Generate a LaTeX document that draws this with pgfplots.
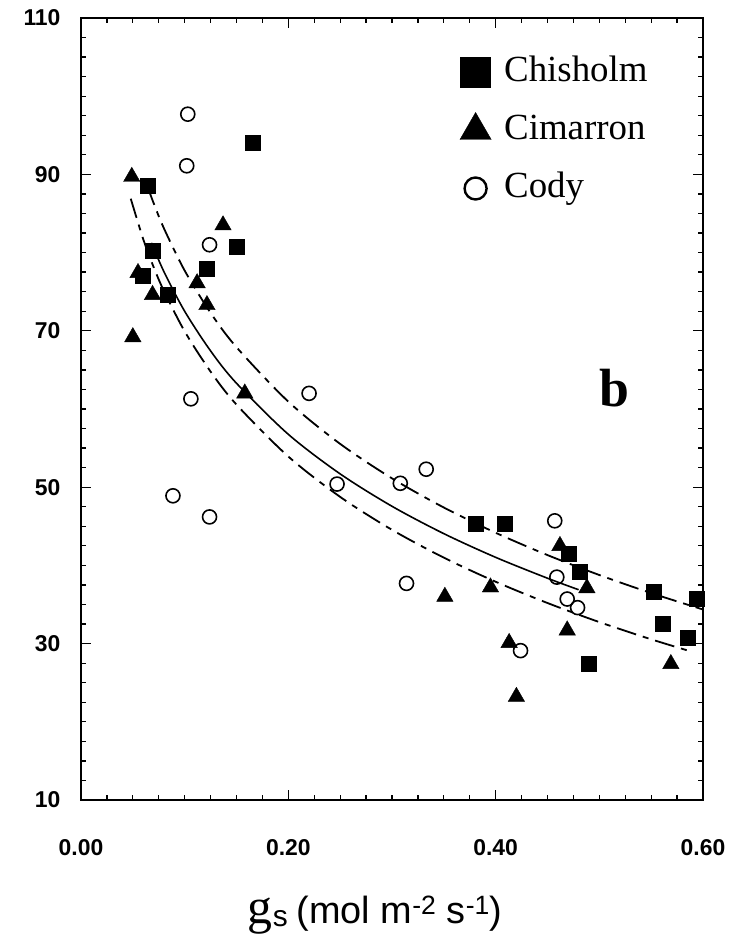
\documentclass[border=0pt]{standalone}
\usepackage{fontspec}
\setmainfont{Liberation Serif}
\setsansfont{Liberation Sans}
\usepackage{pgfplots}
\pgfplotsset{compat=1.18}
\usepackage{pgfplotstable}

% a single mark as legend image
\pgfplotsset{marklegend/.style={legend image code/.code={\draw[##1] plot coordinates {(0bp,0bp)};}}}

% Photosynthesis vs stomatal conductance, three cultivars
\pgfplotstableread{
x y
0.0646 88.5
0.0695 80.2
0.060 77.1
0.084 74.6
0.1215 77.9
0.150 80.8
0.166 94.0
0.381 45.3
0.409 45.3
0.470 41.5
0.481 39.2
0.490 27.4
0.552 36.6
0.561 32.5
0.585 30.7
0.594 35.7
}\chisholm

\pgfplotstableread{
x y
0.049 89.7
0.055 77.4
0.069 74.6
0.050 69.2
0.112 76.1
0.1215 73.3
0.137 83.5
0.158 62.0
0.351 36.0
0.395 37.2
0.413 30.1
0.420 23.2
0.462 42.5
0.469 31.7
0.488 37.1
0.569 27.4
}\cimarron

\pgfplotstableread{
x y
0.103 97.7
0.102 91.1
0.124 81.0
0.106 61.3
0.0887 48.9
0.124 46.2
0.220 62.0
0.247 50.4
0.308 50.5
0.333 52.3
0.314 37.7
0.457 45.7
0.459 38.5
0.469 35.7
0.479 34.6
0.424 29.1
}\cody

% fitted curves
\pgfplotstableread{
x y
0.064 88.5
0.070 86.35
0.080 83.1
0.100 77.7
0.125 72.3
0.150 67.9
0.200 60.94
0.250 55.54
0.300 51.13
0.350 47.40
0.400 44.17
0.450 41.32
0.500 38.77
0.550 36.46
0.600 34.36
}\fitupper

\pgfplotstableread{
x y
0.068 81.25
0.080 77.56
0.100 72.50
0.125 67.43
0.150 63.29
0.200 56.76
0.250 51.70
0.300 47.56
0.350 44.06
0.400 41.03
0.450 38.36
0.480 36.89
}\fitall

\pgfplotstableread{
x y
0.048 86.89
0.060 81.73
0.070 78.17
0.080 75.09
0.100 69.93
0.125 64.78
0.150 60.56
0.200 53.92
0.250 48.76
0.300 44.55
0.350 40.99
0.400 37.91
0.450 35.19
0.500 32.75
0.550 30.55
0.590 28.93
}\fitlower

\begin{document}
\begin{tikzpicture}
\useasboundingbox (-81bp,-151bp) rectangle (649bp,800bp);
\begin{axis}[
  at={(0,0)}, anchor=south west,
  scale only axis, width=622bp, height=782bp,
  xmin=0, xmax=0.6, ymin=10, ymax=110,
  xtick={0,0.2,0.4,0.6}, ytick={10,30,50,70,90,110},
  minor x tick num=7, minor y tick num=7,
  tick align=inside,
  major tick length=10bp, minor tick length=5bp,
  axis line style={line width=1.8bp},
  every tick/.style={black, line width=1.3bp},
  /pgf/number format/assume math mode=true,
  x tick label style={/pgf/number format/fixed, /pgf/number format/fixed zerofill,
    /pgf/number format/precision=2, yshift=-36bp},
  y tick label style={xshift=-17bp},
  tick label style={font=\fontsize{23}{23}\selectfont\sffamily\bfseries},
  xlabel={{\fontsize{50}{50}\selectfont g}{\raisebox{-3bp}{\fontsize{30}{30}\selectfont\sffamily s}}\hspace{9bp}{\fontsize{38}{38}\selectfont\sffamily (mol m\textsuperscript{-2} s\textsuperscript{-1})}},
  x label style={at={(axis description cs:0.473,0)}, anchor=base, yshift=-123bp},
  legend style={draw=none, fill=none, inner sep=0pt, outer sep=0pt,
    at={(axis cs:0.3656,105.46)}, anchor=north west,
    row sep=20bp, column sep=13bp,
    font=\fontsize{37}{37}\selectfont,
    nodes={text height=26bp, text depth=8bp, inner ysep=2bp, inner xsep=0bp}},
  legend cell align=left,
]
\addplot[forget plot, black, line width=1.8bp, dash pattern=on 20bp off 7bp on 6bp off 7bp, smooth] table {\fitupper};
\addplot[forget plot, black, line width=1.6bp, smooth] table {\fitall};
\addplot[forget plot, black, line width=1.8bp, dash pattern=on 20bp off 7bp on 6bp off 7bp, smooth] table {\fitlower};

\addplot[only marks, mark=square*, mark size=7.5bp, black, marklegend,
  legend image post style={mark size=15bp}] table {\chisholm};
\addlegendentry{Chisholm}
\addplot[only marks, mark=triangle*, mark size=9.5bp, black, marklegend,
  legend image post style={mark size=18bp}] table {\cimarron};
\addlegendentry{Cimarron}
\addplot[only marks, mark=o, mark size=7bp, black, mark options={line width=1.6bp}, marklegend,
  legend image post style={mark size=11bp, mark options={line width=2.4bp}}] table {\cody};
\addlegendentry{Cody}

\node[anchor=base] at (axis cs:0.515,60.3) {\fontsize{54}{54}\selectfont\bfseries b};
\end{axis}
\end{tikzpicture}
\end{document}
